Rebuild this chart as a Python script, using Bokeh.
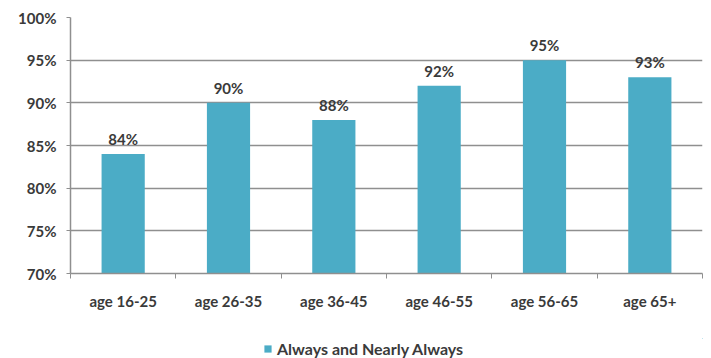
from bokeh.plotting import figure
from bokeh.layouts import column
from bokeh.models import (ColumnDataSource, FixedTicker, Range1d, Legend, LegendItem,
                          NumeralTickFormatter, LabelSet)
from bokeh.core.properties import value
from bokeh.embed import file_html
from bokeh.resources import INLINE

categories = ["age 16-25", "age 26-35", "age 36-45", "age 46-55", "age 56-65", "age 65+"]
values = [84, 90, 88, 92, 95, 93]
labels = ["84%", "90%", "88%", "92%", "95%", "93%"]
y_ticks = [70, 75, 80, 85, 90, 95, 100]
series_name = "Always and Nearly Always"

FONT = "Lato"
TXT = "#3a3a3a"
BAR = "#4BACC6"
GRID = "#8f8f8f"

xs = [i + 0.5 for i in range(len(categories))]
src = ColumnDataSource(dict(x=xs, top=values, lab=labels))

p = figure(width=711, height=338, output_backend="svg", toolbar_location=None,
           x_range=Range1d(0, len(categories)), y_range=Range1d(70, 100),
           min_border_left=70, min_border_right=9, min_border_top=17, min_border_bottom=65)
p.outline_line_color = None
p.background_fill_color = "white"
p.border_fill_color = "white"

r = p.vbar(x="x", top="top", bottom=70, width=0.41, source=src, fill_color=BAR, line_color=None)

p.add_layout(LabelSet(x="x", y="top", text="lab", source=src, text_align="center",
                      text_baseline="bottom", y_offset=6, text_font=value(FONT),
                      text_font_size=value("15px"), text_font_style="bold", text_color=TXT))

# x axis
p.xaxis.ticker = FixedTicker(ticks=xs, minor_ticks=list(range(len(categories) + 1)))
p.xaxis.major_label_overrides = {x: c for x, c in zip(xs, categories)}
p.xaxis.major_tick_line_color = None
p.xaxis.major_tick_out = 6
p.xaxis.minor_tick_line_color = GRID
p.xaxis.minor_tick_out = 5
p.xaxis.minor_tick_in = 0
p.xaxis.axis_line_color = GRID
p.xaxis.axis_line_width = 1.5
p.xaxis.major_label_text_font = FONT
p.xaxis.major_label_text_font_size = "15px"
p.xaxis.major_label_text_font_style = "bold"
p.xaxis.major_label_text_color = TXT
p.xaxis.major_label_standoff = 12

# y axis
p.yaxis.ticker = FixedTicker(ticks=y_ticks)
p.yaxis.formatter = NumeralTickFormatter(format="0")
p.yaxis.major_label_overrides = {t: f"{t}%" for t in y_ticks}
p.yaxis.minor_tick_line_color = None
p.yaxis.major_tick_out = 4
p.yaxis.major_tick_in = 0
p.yaxis.major_tick_line_color = GRID
p.yaxis.axis_line_color = GRID
p.yaxis.axis_line_width = 1.5
p.yaxis.major_label_text_font = FONT
p.yaxis.major_label_text_font_size = "15px"
p.yaxis.major_label_text_font_style = "bold"
p.yaxis.major_label_text_color = TXT
p.yaxis.major_label_standoff = 10

p.xgrid.grid_line_color = None
p.ygrid.grid_line_color = GRID
p.ygrid.grid_line_width = 1.5

# legend strip below the chart (its renderer's data lies outside its view)
p2 = figure(width=711, height=20, output_backend="svg", toolbar_location=None,
            x_axis_type=None, y_axis_type=None, min_border=0,
            min_border_left=70, min_border_right=9,
            x_range=Range1d(-20, -19), y_range=Range1d(0, 1))
p2.outline_line_color = None
p2.xgrid.grid_line_color = None
p2.ygrid.grid_line_color = None
r2 = p2.vbar(x="x", top="top", bottom=70, width=0.41, source=src,
             fill_color=BAR, line_color=None)
legend = Legend(items=[LegendItem(label=series_name, renderers=[r2])],
                orientation="horizontal", location=(193, 0),
                label_text_font=FONT, label_text_font_size="16px",
                label_text_font_style="bold", label_text_color=TXT,
                glyph_width=9, glyph_height=9, border_line_color=None,
                background_fill_alpha=0, margin=0, padding=2, label_standoff=5,
                label_height=16)
p2.add_layout(legend)

layout = column(p, p2, spacing=0)
open("out.html", "w").write(file_html(layout, INLINE))
